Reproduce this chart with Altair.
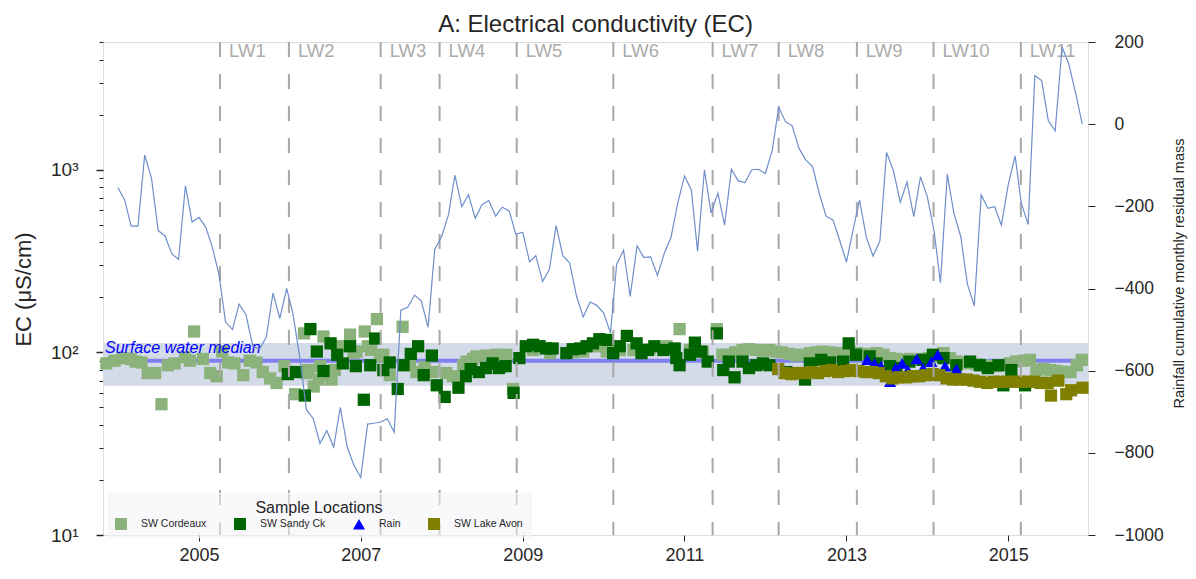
import altair as alt
import pandas as pd

FONT = "Liberation Sans"
INK = "#262626"

# ---------------- data ----------------
rain_start = "2004-01-01"
rain_resid = [-154, -185, -248, -248, -75, -132, -259, -272, -316, -329, -150, -238,
              -227, -251, -297, -365, -481, -500, -438, -463, -540, -548, -518, -411,
              -473, -400, -461, -567, -695, -717, -777, -746, -786, -689, -786, -830,
              -860, -730, -728, -725, -717, -750, -453, -446, -416, -430, -494, -305,
              -274, -221, -124, -201, -172, -229, -196, -186, -224, -202, -211, -268,
              -263, -335, -320, -383, -354, -247, -320, -338, -419, -469, -433, -441,
              -459, -508, -341, -307, -419, -296, -324, -323, -368, -316, -276, -194,
              -126, -160, -309, -111, -216, -168, -246, -110, -138, -142, -111, -110,
              -120, -64, 41, 6, -4, -59, -87, -103, -170, -224, -233, -282, -336, -254,
              -185, -276, -321, -284, -69, -114, -190, -141, -225, -128, -177, -262,
              -386, -122, -217, -274, -390, -442, -172, -205, -201, -246, -148, -77,
              -193, -244, 118, 106, 8, -16, 188, 147, 76, 0]

cordeaux_yr = [2003.86, 2003.96, 2004.06, 2004.16, 2004.22, 2004.29, 2004.37, 2004.46, 2004.54,
               2004.62, 2004.70, 2004.83, 2004.89, 2004.94, 2005.05, 2005.14, 2005.22, 2005.29,
               2005.36, 2005.44, 2005.55, 2005.63, 2005.71, 2005.79, 2005.88, 2005.96, 2006.06,
               2006.19, 2006.30, 2006.33, 2006.35, 2006.42, 2006.48, 2006.50, 2006.54, 2006.58,
               2006.64, 2006.68, 2006.74, 2006.87, 2006.91, 2006.95, 2007.05, 2007.09, 2007.13,
               2007.20, 2007.24, 2007.28, 2007.36, 2007.52, 2007.61, 2007.69, 2007.79, 2007.89,
               2008.06, 2008.14, 2008.27, 2008.31, 2008.39, 2008.43, 2008.55, 2008.68, 2008.80,
               2008.88, 2009.13, 2009.34, 2009.62, 2009.75, 2009.91,
               2010.04, 2010.20, 2010.37, 2010.57, 2010.78, 2010.94, 2011.07, 2011.23, 2011.40,
               2011.47, 2011.55, 2011.63, 2011.72, 2011.80, 2011.89, 2011.97, 2012.05, 2012.13,
               2012.21, 2012.30, 2012.38, 2012.46, 2012.55, 2012.63, 2012.71, 2012.80, 2012.88,
               2012.96, 2013.05, 2013.13, 2013.21, 2013.29, 2013.37, 2013.46, 2013.54, 2013.62,
               2013.70, 2013.79, 2013.87, 2013.95, 2014.03, 2014.12, 2014.20, 2014.28, 2014.36,
               2014.45, 2014.53, 2014.61, 2014.69, 2014.77, 2014.86, 2014.94, 2015.02, 2015.10,
               2015.19, 2015.27, 2015.35, 2015.44, 2015.52, 2015.60, 2015.69, 2015.77, 2015.85,
               2015.91]
cordeaux_ec = [87, 90, 93, 92, 89, 88, 77, 77, 52,
               85, 87, 94, 90, 130, 92, 77, 74, 101,
               88, 87, 75, 90, 88, 78, 72, 68, 84,
               59, 127, 77, 80, 65, 71, 84, 122, 75,
               71, 80, 108, 125, 99, 101, 130, 108, 103,
               152, 95, 97, 75, 138, 85, 78, 83, 78,
               77, 74, 85, 89, 92, 95, 96, 97, 97,
               63, 103, 99, 100, 101, 108,
               101, 103, 103, 104, 108, 134, 103, 100, 134,
               97, 97, 100, 103, 104, 103, 102, 103, 101,
               100, 98, 96, 97, 99, 100, 101, 100, 99,
               99, 100, 99, 98, 97, 99, 97, 93, 92,
               91, 92, 91, 92, 93, 96, 99, 93, 89,
               88, 87, 86, 85, 84, 84, 85, 87, 89,
               90, 91, 80, 81, 80, 79, 78, 78, 85,
               91]

sandy_yr = [2006.10, 2006.20, 2006.31, 2006.38, 2006.46, 2006.54, 2006.63, 2006.71, 2006.78,
            2006.87, 2006.94, 2007.04, 2007.12, 2007.18, 2007.28, 2007.36, 2007.46, 2007.53,
            2007.62, 2007.71, 2007.78, 2007.88, 2007.94, 2008.04, 2008.21, 2008.30, 2008.36,
            2008.46, 2008.55, 2008.63, 2008.71, 2008.79, 2008.89, 2008.96, 2009.04, 2009.13,
            2009.21, 2009.29, 2009.37, 2009.54, 2009.62, 2009.71, 2009.79, 2009.87, 2009.95,
            2010.04, 2010.12, 2010.20, 2010.29, 2010.41, 2010.47, 2010.55, 2010.63, 2010.74,
            2010.88, 2010.90, 2010.94, 2011.07, 2011.13, 2011.21, 2011.29, 2011.40, 2011.48,
            2011.55, 2011.62, 2011.72, 2011.80, 2011.89, 2011.97, 2012.05, 2012.26, 2012.38,
            2012.49, 2012.55, 2012.69, 2012.80, 2012.96, 2013.03, 2013.12, 2013.29, 2013.37,
            2013.54, 2013.62, 2013.78, 2013.95, 2014.07, 2014.20, 2014.36, 2014.53, 2014.65,
            2014.75, 2014.88, 2014.94, 2015.04, 2015.21]
sandy_ec = [76, 78, 58, 134, 101, 79, 112, 97, 87,
            108, 84, 55, 85, 119, 80, 88, 63, 85,
            98, 108, 75, 96, 66, 57, 64, 74, 81,
            78, 82, 87, 82, 84, 60, 93, 108, 110,
            108, 105, 105, 99, 104, 105, 108, 112, 118,
            117, 99, 108, 123, 112, 99, 103, 108, 103,
            105, 93, 85, 97, 113, 101, 89, 127, 80,
            89, 73, 89, 82, 85, 87, 85, 78, 77,
            71, 87, 91, 88, 89, 112, 97, 95, 87,
            84, 82, 89, 91, 97, 93, 85, 89, 85,
            82, 85, 66, 80, 66]

rainwater_yr = [2013.26, 2013.35, 2013.43, 2013.54, 2013.61, 2013.69, 2013.76, 2013.87,
                2013.95, 2014.05, 2014.13, 2014.22, 2014.36]
rainwater_ec = [91, 87, 84, 69, 82, 87, 80, 92, 82, 89, 97, 84, 81]

avon_yr = [2012.16, 2012.24, 2012.32, 2012.40, 2012.49, 2012.57, 2012.65, 2012.74, 2012.82,
           2012.90, 2012.99, 2013.07, 2013.15, 2013.24, 2013.32, 2013.40, 2013.49, 2013.57,
           2013.65, 2013.74, 2013.82, 2013.90, 2013.99, 2014.07, 2014.15, 2014.24, 2014.32,
           2014.40, 2014.49, 2014.57, 2014.65, 2014.74, 2014.82, 2014.90, 2014.99, 2015.07,
           2015.15, 2015.24, 2015.32, 2015.40, 2015.49, 2015.53, 2015.62, 2015.72, 2015.78,
           2015.92]
avon_ec = [81, 77, 76, 77, 77, 78, 77, 79, 80,
           78, 79, 80, 79, 78, 78, 77, 74, 72,
           73, 73, 74, 74, 75, 76, 75, 72, 71,
           71, 71, 70, 69, 68, 69, 69, 69, 69,
           69, 69, 69, 68, 68, 58, 70, 59, 62,
           64]

series_names = ["SW Cordeaux", "SW Sandy Ck", "Rain", "SW Lake Avon"]
series_colors = ["#8AB27A", "#006400", "#0000FF", "#808000"]
series_shapes = ["square", "square", "triangle-up", "square"]

lw_labels = ["LW1", "LW2", "LW3", "LW4", "LW5", "LW6", "LW7", "LW8", "LW9", "LW10", "LW11"]
lw_dates = ["2005-04-06", "2006-02-11", "2007-04-01", "2007-12-23", "2008-12-05", "2010-02-14",
            "2011-05-08", "2012-03-01", "2013-02-17", "2014-01-29", "2015-02-27"]

median_ec = 90
median_low = 65.7
median_high = 112.4
x_start = "2003-10-26"
x_end = "2015-12-27"
year_ticks = [2005, 2007, 2009, 2011, 2013, 2015]
ec_ticks = [10, 20, 30, 40, 50, 60, 70, 80, 90, 100, 200, 300, 400, 500, 600, 700, 800, 900,
            1000, 2000, 3000, 4000, 5000]
resid_ticks = [-1000, -800, -600, -400, -200, 0, 200]


# ---------------- tables ----------------
def yr2date(y):
    yi = int(y)
    start = pd.Timestamp(yi, 1, 1)
    end = pd.Timestamp(yi + 1, 1, 1)
    return (start + (end - start) * (y - yi)).normalize()


line_df = pd.DataFrame({"date": pd.date_range(rain_start, periods=len(rain_resid), freq="MS"),
                        "resid": rain_resid})

frames = []
for name, yrs, ecs in [("SW Cordeaux", cordeaux_yr, cordeaux_ec),
                       ("SW Sandy Ck", sandy_yr, sandy_ec),
                       ("Rain", rainwater_yr, rainwater_ec),
                       ("SW Lake Avon", avon_yr, avon_ec)]:
    frames.append(pd.DataFrame({"date": [yr2date(v) for v in yrs], "ec": ecs, "loc": name}))
pts_df = pd.concat(frames, ignore_index=True)
pts_df["order"] = range(len(pts_df))

lw_df = pd.DataFrame({"date": pd.to_datetime(lw_dates), "label": lw_labels})
band_df = pd.DataFrame({"x": [pd.Timestamp(x_start)], "x2": [pd.Timestamp(x_end)],
                        "lo": [median_low], "hi": [median_high]})
median_df = pd.DataFrame({"ec": [median_ec]})
mtext_df = pd.DataFrame({"date": [pd.Timestamp("2003-11-04")], "ec": [99],
                         "t": ["Surface water median"]})

# ---------------- scales ----------------
xs = alt.Scale(domain=[alt.DateTime(year=2003, month=10, date=26),
                       alt.DateTime(year=2015, month=12, date=27)], nice=False)
ecs = alt.Scale(type="log", domain=[10, 5000], nice=False)
rs = alt.Scale(domain=[-1000, 200], nice=False)

x_axis = alt.Axis(values=[alt.DateTime(year=y, month=1, date=1) for y in year_ticks],
                  format="%Y", title=None, grid=False, domain=False, tickSize=6,
                  tickColor=INK, labelColor=INK, labelFontSize=18, labelFont=FONT,
                  labelPadding=5)

major = "datum.value == 10 || datum.value == 100 || datum.value == 1000"
ec_axis = alt.Axis(values=ec_ticks, grid=False, domain=False,
                   labelExpr="datum.value == 10 ? '10¹' : datum.value == 100 ? '10²' : datum.value == 1000 ? '10³' : ''",
                   tickSize={"condition": {"test": major, "value": 7}, "value": 4},
                   tickWidth={"condition": {"test": major, "value": 1.5}, "value": 1},
                   tickColor=INK, labelColor=INK, labelFontSize=19, labelFont=FONT,
                   labelPadding=18,
                   title="EC (μS/cm)", titleFontSize=22, titleFont=FONT, titleFontWeight="normal",
                   titleColor=INK, titleX=-80, titleY=247, titleAlign="center",
                   titleBaseline="middle", titleAngle=270)

r_axis = alt.Axis(values=resid_ticks, orient="right", grid=False, domain=False,
                  labelExpr="replace(format(datum.value, 'd'), '-', '\u2212')",
                  tickSize=7, tickColor=INK, labelColor=INK, labelFontSize=17.5,
                  labelFont=FONT, labelPadding=19,
                  title="Rainfall cumulative monthly residual mass", titleFontSize=14.5,
                  titleFont=FONT, titleFontWeight="normal", titleColor=INK,
                  titleAngle=270, titleX=91, titleY=231, titleAlign="center",
                  titleBaseline="middle")

band = alt.Chart(band_df).mark_rect(color="#D3DAE8").encode(
    x=alt.X("x:T", scale=xs, axis=x_axis), x2="x2:T",
    y=alt.Y("lo:Q", scale=ecs, axis=ec_axis), y2="hi:Q")

median = alt.Chart(median_df).mark_rule(color="#7F7FF0", strokeWidth=4).encode(
    y=alt.Y("ec:Q", scale=ecs))

points = alt.Chart(pts_df).mark_point(filled=True, opacity=1, strokeWidth=0).encode(
    x=alt.X("date:T", scale=xs),
    y=alt.Y("ec:Q", scale=ecs),
    color=alt.Color("loc:N", scale=alt.Scale(domain=series_names, range=series_colors),
                    legend=alt.Legend(
                        title="Sample Locations", orient="none", legendX=5, legendY=451,
                        direction="horizontal", columns=4, titleAnchor="middle",
                        titleFontSize=16, titleFont=FONT, titleFontWeight="normal",
                        titleColor=INK, titlePadding=2, labelFontSize=10.5, labelFont=FONT,
                        labelColor=INK, symbolSize=144, columnPadding=27, labelOffset=14,
                        padding=7, fillColor="rgba(244,244,249,0.55)", strokeColor="#F6F6FA",
                        symbolStrokeWidth=0, symbolOpacity=1)),
    shape=alt.Shape("loc:N", scale=alt.Scale(domain=series_names, range=series_shapes)),
    size=alt.value(150),
    order=alt.Order("order:Q"))

lw_rules = alt.Chart(lw_df).mark_rule(color="#A8A8A8", strokeWidth=2,
                                      strokeDash=[15, 17]).encode(x=alt.X("date:T", scale=xs))

lw_text = alt.Chart(lw_df).mark_text(align="left", baseline="alphabetic", dx=9,
                                     fontSize=18.5, font=FONT, color="#ABABAB").encode(
    x=alt.X("date:T", scale=xs), y=alt.value(15), text="label:N")

mtext = alt.Chart(mtext_df).mark_text(align="left", baseline="alphabetic", fontSize=16,
                                      font=FONT, fontStyle="italic", color="#0000FF").encode(
    x=alt.X("date:T", scale=xs), y=alt.Y("ec:Q", scale=ecs), text="t:N")

left = alt.layer(band, median, points, lw_rules, lw_text, mtext)

rline = alt.Chart(line_df).mark_line(color="#6F8FCB", strokeWidth=1.2).encode(
    x=alt.X("date:T", scale=xs),
    y=alt.Y("resid:Q", scale=rs, axis=r_axis))

chart = alt.layer(left, rline).resolve_scale(y="independent").properties(
    width=985, height=493,
    autosize=alt.AutoSizeParams(type="none"),
    padding={"left": 95, "top": 34, "right": 100, "bottom": 30},
    title=alt.TitleParams("A: Electrical conductivity (EC)", fontSize=24, font=FONT,
                          fontWeight="normal", color=INK, offset=8, anchor="middle",
                          frame="group", dy=12),
).configure_view(fill="#EAEAF2", stroke=None).configure(background="white")

chart.save("out.html", embed_options={"renderer": "svg", "actions": False})
